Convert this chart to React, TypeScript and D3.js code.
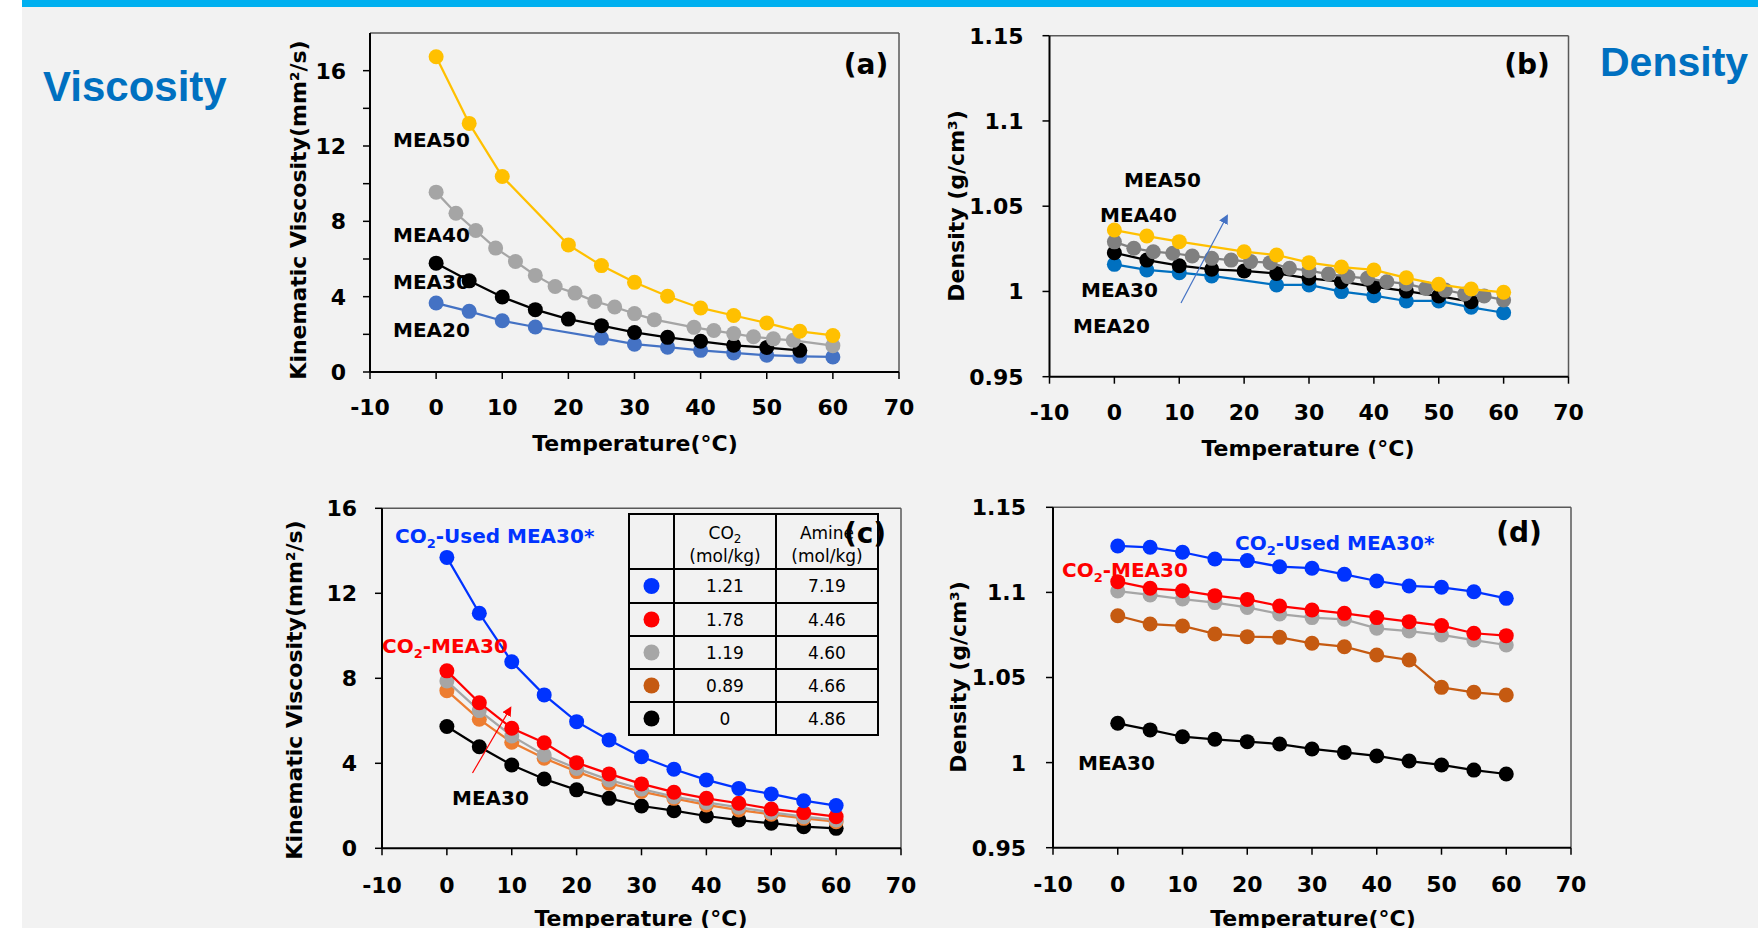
import React from "react"
import * as d3 from "d3"

// ---- data ----
const xTicks = [-10, 0, 10, 20, 30, 40, 50, 60, 70]
const t5 = [0, 5, 10, 15, 20, 25, 30, 35, 40, 45, 50, 55, 60]

// (a) kinematic viscosity, aqueous MEA (mm2/s)
const aMEA50T = [0, 5, 10, 20, 25, 30, 35, 40, 45, 50, 55, 60]
const aMEA50V = [16.74, 13.2, 10.38, 6.75, 5.65, 4.76, 4.02, 3.4, 3.0, 2.6, 2.16, 1.94]
const aMEA40T = [0, 3, 6, 9, 12, 15, 18, 21, 24, 27, 30, 33, 39, 42, 45, 48, 51, 54, 60]
const aMEA40V = [9.55, 8.43, 7.51, 6.58, 5.87, 5.13, 4.54, 4.19, 3.75, 3.45, 3.1, 2.78, 2.37, 2.2, 2.04, 1.87, 1.76, 1.68, 1.4]
const aMEA30T = [0, 5, 10, 15, 20, 25, 30, 35, 40, 45, 50, 55]
const aMEA30V = [5.78, 4.84, 3.98, 3.31, 2.81, 2.46, 2.1, 1.84, 1.63, 1.42, 1.3, 1.15]
const aMEA20T = [0, 5, 10, 15, 25, 30, 35, 40, 45, 50, 55, 60]
const aMEA20V = [3.66, 3.22, 2.72, 2.39, 1.8, 1.48, 1.32, 1.15, 1.01, 0.89, 0.83, 0.8]

// (b) density, aqueous MEA (g/cm3)
const bMEA50T = [0, 5, 10, 20, 25, 30, 35, 40, 45, 50, 55, 60]
const bMEA50V = [1.036, 1.0325, 1.0292, 1.0233, 1.0214, 1.0169, 1.0143, 1.0126, 1.008, 1.0042, 1.0014, 0.9995]
const bMEA40T = [0, 3, 6, 9, 12, 15, 18, 21, 24, 27, 30, 33, 36, 39, 42, 45, 48, 51, 54, 57, 60]
const bMEA40V = [1.0291, 1.0253, 1.0233, 1.0224, 1.0208, 1.0194, 1.0184, 1.0175, 1.0169, 1.0136, 1.0122, 1.0102, 1.0087, 1.0077, 1.0057, 1.0044, 1.0018, 1.0008, 0.9985, 0.9973, 0.995]
const bMEA30T = [0, 5, 10, 15, 20, 25, 30, 35, 40, 45, 50, 55]
const bMEA30V = [1.0227, 1.0184, 1.0151, 1.013, 1.012, 1.0106, 1.0077, 1.0057, 1.0028, 1.0002, 0.9973, 0.994]
const bMEA20T = [0, 5, 10, 15, 25, 30, 35, 40, 45, 50, 55, 60]
const bMEA20V = [1.0159, 1.0126, 1.011, 1.0091, 1.0038, 1.0038, 0.9999, 0.9975, 0.9944, 0.9944, 0.9907, 0.9875]

// (c) kinematic viscosity, CO2 loaded MEA30
const cUsedV = [13.69, 11.06, 8.78, 7.22, 5.96, 5.1, 4.31, 3.72, 3.22, 2.82, 2.56, 2.24, 2.01]
const cRedV = [8.35, 6.85, 5.65, 4.97, 4.03, 3.5, 3.03, 2.64, 2.35, 2.12, 1.85, 1.68, 1.49]
const cGrayV = [7.87, 6.48, 5.29, 4.39, 3.76, 3.22, 2.79, 2.43, 2.16, 1.93, 1.69, 1.49, 1.33]
const cOrangeV = [7.42, 6.07, 4.99, 4.24, 3.61, 3.06, 2.67, 2.35, 2.04, 1.8, 1.6, 1.41, 1.25]
const cMEA30V = [5.73, 4.78, 3.92, 3.26, 2.75, 2.35, 1.99, 1.77, 1.52, 1.33, 1.18, 1.02, 0.94]

// (d) density, CO2 loaded MEA30
const dUsedV = [1.1273, 1.1265, 1.1236, 1.1196, 1.1187, 1.1151, 1.1142, 1.1106, 1.1067, 1.1038, 1.103, 1.1004, 1.0965]
const dRedV = [1.1063, 1.1024, 1.101, 1.0981, 1.0959, 1.092, 1.0897, 1.0877, 1.0852, 1.0828, 1.0805, 1.076, 1.0746]
const dGrayV = [1.1008, 1.0985, 1.0961, 1.094, 1.0912, 1.0873, 1.0852, 1.0842, 1.0789, 1.0773, 1.075, 1.072, 1.0691]
const dOrangeV = [1.0863, 1.0814, 1.0803, 1.0756, 1.074, 1.0736, 1.0701, 1.0681, 1.0632, 1.0603, 1.0442, 1.0413, 1.0397]
const dMEA30V = [1.0231, 1.0192, 1.0152, 1.0137, 1.0123, 1.0109, 1.008, 1.006, 1.0039, 1.0009, 0.9986, 0.9956, 0.9933]

// table in (c)
const tableCO2 = ["1.21", "1.78", "1.19", "0.89", "0"]
const tableAmine = ["7.19", "4.46", "4.60", "4.66", "4.86"]
const tableColors = ["#0033ff", "#ff0000", "#a6a6a6", "#c55a11", "#000000"]

const visTicksA = [0, 2, 4, 6, 8, 10, 12, 14, 16]
const visTicksC = [0, 4, 8, 12, 16]
const denTicks = [0.95, 1, 1.05, 1.1, 1.15]

const FONT = "'DejaVu Sans', sans-serif"
const BLUE_T = "#0070c0"

type Series = { t: number[]; v: number[]; color: string }

function CO2({ rest }: { rest: string }) {
  return (
    <>
      <tspan>CO</tspan>
      <tspan dy={5} fontSize={13}>2</tspan>
      <tspan dy={-5}>{rest}</tspan>
    </>
  )
}

function Panel(props: {
  left: number; right: number; top: number; bottom: number
  yDomain: [number, number]; yTicks: number[]; yLabel: (v: number) => string | null
  series: Series[]; xTitle: string; xTitleX: number; xTitleY: number
  yTitle: string; yTitleX: number; yTitleY: number
  xLabelDy: number; yLabelDx: number
}) {
  const { left, right, top, bottom } = props
  const x = d3.scaleLinear().domain([-10, 70]).range([left, right])
  const y = d3.scaleLinear().domain(props.yDomain).range([bottom, top])
  return (
    <g fontFamily={FONT} fontWeight="bold">
      <line x1={left} x2={right} y1={top} y2={top} stroke="#595959" strokeWidth={1.5} />
      <line x1={right} x2={right} y1={top} y2={bottom} stroke="#595959" strokeWidth={1.5} />
      <line x1={left} x2={left} y1={top} y2={bottom} stroke="#000" strokeWidth={2} />
      <line x1={left} x2={right} y1={bottom} y2={bottom} stroke="#000" strokeWidth={2} />
      {props.yTicks.map(v => (
        <g key={"y" + v}>
          <line x1={left - 7} x2={left} y1={y(v)} y2={y(v)} stroke="#000" strokeWidth={1.5} />
          {props.yLabel(v) !== null && (
            <text x={left - props.yLabelDx} y={y(v)} dy="0.36em" textAnchor="end" fontSize={22}>
              {props.yLabel(v)}
            </text>
          )}
        </g>
      ))}
      {xTicks.map(v => (
        <g key={"x" + v}>
          <line x1={x(v)} x2={x(v)} y1={bottom} y2={bottom + 7} stroke="#000" strokeWidth={1.5} />
          <text x={x(v)} y={bottom + props.xLabelDy} textAnchor="middle" fontSize={22}>{v}</text>
        </g>
      ))}
      <text x={props.xTitleX} y={props.xTitleY} textAnchor="middle" fontSize={22}>{props.xTitle}</text>
      <text transform={`translate(${props.yTitleX},${props.yTitleY}) rotate(-90)`} textAnchor="middle" fontSize={22}>
        {props.yTitle}
      </text>
      {props.series.map((s, i) => {
        const pts = s.t.map((t, j) => [x(t), y(s.v[j])] as [number, number])
        return (
          <g key={i}>
            <path d={d3.line()(pts) || ""} fill="none" stroke={s.color} strokeWidth={2.25} />
            {pts.map((p, j) => <circle key={j} cx={p[0]} cy={p[1]} r={7.5} fill={s.color} />)}
          </g>
        )
      })}
    </g>
  )
}

export default function App() {
  const fmtDen = (v: number) => String(+v.toFixed(2))
  const seriesA: Series[] = [
    { t: aMEA20T, v: aMEA20V, color: "#4472c4" },
    { t: aMEA30T, v: aMEA30V, color: "#000000" },
    { t: aMEA40T, v: aMEA40V, color: "#a5a5a5" },
    { t: aMEA50T, v: aMEA50V, color: "#ffc000" },
  ]
  const seriesB: Series[] = [
    { t: bMEA20T, v: bMEA20V, color: "#0070c0" },
    { t: bMEA30T, v: bMEA30V, color: "#000000" },
    { t: bMEA40T, v: bMEA40V, color: "#808080" },
    { t: bMEA50T, v: bMEA50V, color: "#ffc000" },
  ]
  const seriesC: Series[] = [
    { t: t5, v: cMEA30V, color: "#000000" },
    { t: t5, v: cOrangeV, color: "#ed7d31" },
    { t: t5, v: cGrayV, color: "#a6a6a6" },
    { t: t5, v: cRedV, color: "#ff0000" },
    { t: t5, v: cUsedV, color: "#0033ff" },
  ]
  const seriesD: Series[] = [
    { t: t5, v: dMEA30V, color: "#000000" },
    { t: t5, v: dOrangeV, color: "#c55a11" },
    { t: t5, v: dGrayV, color: "#a6a6a6" },
    { t: t5, v: dRedV, color: "#ff0000" },
    { t: t5, v: dUsedV, color: "#0033ff" },
  ]

  // table geometry
  const tabX = [629, 674, 776, 878]
  const tabY = [514, 569, 603, 636, 669, 702, 735]

  return (
    <svg width={1758} height={928} style={{ position: "absolute", left: 0, top: 0 }}>
      <defs>
        <marker id="ahBlue" viewBox="0 0 10 10" refX={8} refY={5} markerWidth={8} markerHeight={8} orient="auto">
          <path d="M0,0 L10,5 L0,10 z" fill="#4472c4" />
        </marker>
        <marker id="ahRed" viewBox="0 0 10 10" refX={8} refY={5} markerWidth={8} markerHeight={8} orient="auto">
          <path d="M0,0 L10,5 L0,10 z" fill="#ff0000" />
        </marker>
      </defs>
      <rect x={0} y={0} width={1758} height={928} fill="#ffffff" />
      <rect x={22} y={0} width={1736} height={928} fill="#f2f2f2" />
      <rect x={22} y={0} width={1736} height={7} fill="#00b0f0" />

      <text x={43} y={101} fontFamily="'Liberation Sans', Arial, sans-serif" fontWeight="bold" fontSize={42} fill={BLUE_T}>Viscosity</text>
      <text x={1600} y={76} fontFamily="'Liberation Sans', Arial, sans-serif" fontWeight="bold" fontSize={41} fill={BLUE_T}>Density</text>

      {/* (a) */}
      <Panel left={370} right={899} top={33} bottom={372} yDomain={[0, 18]} yTicks={visTicksA}
        yLabel={v => (v % 4 === 0 ? String(v) : null)} series={seriesA}
        xTitle="Temperature(°C)" xTitleX={635} xTitleY={451}
        yTitle="Kinematic Viscosity(mm²/s)" yTitleX={306} yTitleY={210}
        xLabelDy={43} yLabelDx={24} />
      <g fontFamily={FONT} fontWeight="bold" fontSize={20}>
        <text x={393} y={147}>MEA50</text>
        <text x={393} y={242}>MEA40</text>
        <text x={393} y={289}>MEA30</text>
        <text x={393} y={337}>MEA20</text>
        <text x={866} y={74} textAnchor="middle" fontSize={28}>(a)</text>
      </g>

      {/* (b) */}
      <Panel left={1049.5} right={1568.5} top={35.7} bottom={376.7} yDomain={[0.95, 1.15]} yTicks={denTicks}
        yLabel={fmtDen} series={seriesB}
        xTitle="Temperature (°C)" xTitleX={1308} xTitleY={456}
        yTitle="Density (g/cm³)" yTitleX={964} yTitleY={206}
        xLabelDy={43} yLabelDx={26} />
      <line x1={1181} y1={303} x2={1227} y2={216} stroke="#4472c4" strokeWidth={1.2} markerEnd="url(#ahBlue)" />
      <g fontFamily={FONT} fontWeight="bold" fontSize={20}>
        <text x={1124} y={187}>MEA50</text>
        <text x={1100} y={222}>MEA40</text>
        <text x={1081} y={297}>MEA30</text>
        <text x={1073} y={333}>MEA20</text>
        <text x={1527} y={74} textAnchor="middle" fontSize={28}>(b)</text>
      </g>

      {/* (c) */}
      <Panel left={382} right={901} top={508.3} bottom={848.3} yDomain={[0, 16]} yTicks={visTicksC}
        yLabel={v => String(v)} series={seriesC}
        xTitle="Temperature (°C)" xTitleX={641} xTitleY={926}
        yTitle="Kinematic Viscosity(mm²/s)" yTitleX={302} yTitleY={690}
        xLabelDy={45} yLabelDx={25} />
      <line x1={472.5} y1={773} x2={510.4} y2={708} stroke="#ff0000" strokeWidth={1.2} markerEnd="url(#ahRed)" />
      <g fontFamily={FONT} fontWeight="bold" fontSize={20}>
        <text x={395} y={543} fill="#0033ff"><CO2 rest="-Used MEA30*" /></text>
        <text x={382} y={653} fill="#ff0000"><CO2 rest="-MEA30" /></text>
        <text x={452} y={805}>MEA30</text>
      </g>
      <g fontFamily={FONT} fontSize={17}>
        <rect x={tabX[0]} y={tabY[0]} width={tabX[3] - tabX[0]} height={tabY[6] - tabY[0]} fill="#f2f2f2" stroke="#000" strokeWidth={2} />
        {tabX.slice(1, 3).map(xv => <line key={xv} x1={xv} x2={xv} y1={tabY[0]} y2={tabY[6]} stroke="#000" strokeWidth={2} />)}
        {tabY.slice(1, 6).map(yv => <line key={yv} x1={tabX[0]} x2={tabX[3]} y1={yv} y2={yv} stroke="#000" strokeWidth={2} />)}
        <text x={725} y={539} textAnchor="middle"><tspan>CO</tspan><tspan dy={4} fontSize={12}>2</tspan></text>
        <text x={725} y={562} textAnchor="middle">(mol/kg)</text>
        <text x={827} y={539} textAnchor="middle">Amine</text>
        <text x={827} y={562} textAnchor="middle">(mol/kg)</text>
        {tableCO2.map((c, i) => {
          const cy = (tabY[i + 1] + tabY[i + 2]) / 2
          return (
            <g key={i}>
              <circle cx={651.5} cy={cy} r={8} fill={tableColors[i]} />
              <text x={725} y={cy} dy="0.36em" textAnchor="middle">{c}</text>
              <text x={827} y={cy} dy="0.36em" textAnchor="middle">{tableAmine[i]}</text>
            </g>
          )
        })}
      </g>
      <text x={865} y={543} textAnchor="middle" fontFamily={FONT} fontWeight="bold" fontSize={28}>(c)</text>

      {/* (d) */}
      <Panel left={1053} right={1571} top={507.3} bottom={847.7} yDomain={[0.95, 1.15]} yTicks={denTicks}
        yLabel={fmtDen} series={seriesD}
        xTitle="Temperature(°C)" xTitleX={1313} xTitleY={926}
        yTitle="Density (g/cm³)" yTitleX={966} yTitleY={677}
        xLabelDy={44} yLabelDx={27} />
      <g fontFamily={FONT} fontWeight="bold" fontSize={20}>
        <text x={1235} y={550} fill="#0033ff"><CO2 rest="-Used MEA30*" /></text>
        <text x={1062} y={577} fill="#ff0000"><CO2 rest="-MEA30" /></text>
        <text x={1078} y={770}>MEA30</text>
        <text x={1519} y={542} textAnchor="middle" fontSize={28}>(d)</text>
      </g>
    </svg>
  )
}
